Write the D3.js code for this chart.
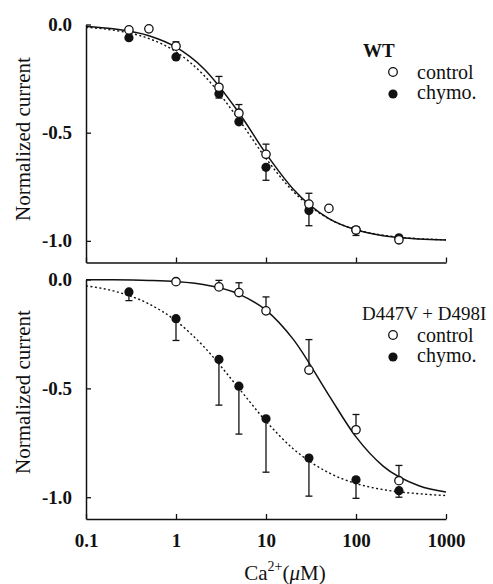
<!DOCTYPE html>
<html>
<head>
<meta charset="utf-8">
<script src="https://cdn.jsdelivr.net/npm/d3@7"></script>
<style>
  html, body { margin: 0; padding: 0; background: #fff; }
  svg { display: block; font-family: "Liberation Serif" !important; }
  svg text, svg tspan, svg g { font-family: "Liberation Serif" !important; }
</style>
</head>
<body>
<svg id="chart" width="493" height="584"></svg>
<script>
// Ca2+ concentrations (µM) and normalized current, mean ± SEM
const xTicks = [0.1, 1, 10, 100, 1000];
const xTickLabels = ["0.1", "1", "10", "100", "1000"];
const yTicks = [0, -0.5, -1];
const yTickLabels = ["0.0", "-0.5", "-1.0"];

// Wild type
const wtControlConc = [0.3, 0.5, 1, 3, 5, 10, 30, 50, 100, 300];
const wtControl     = [-0.025, -0.02, -0.10, -0.29, -0.41, -0.60, -0.83, -0.85, -0.95, -0.995];
const wtControlErr  = [0, 0, 0.02, 0.05, 0.04, 0.047, 0.05, 0, 0.015, 0];
const wtChymoConc   = [0.3, 1, 3, 5, 10, 30, 100, 300];
const wtChymo       = [-0.061, -0.15, -0.32, -0.45, -0.66, -0.86, -0.95, -0.986];
const wtChymoErr    = [0, 0, 0.02, 0, 0.06, 0.07, 0.025, 0];

// D447V + D498I
const mutControlConc = [1, 3, 5, 10, 30, 100, 300];
const mutControl     = [-0.01, -0.034, -0.06, -0.144, -0.416, -0.69, -0.924];
const mutControlErr  = [0, 0.03, 0.045, 0.064, 0.14, 0.07, 0.07];
const mutChymoConc   = [0.3, 1, 3, 5, 10, 30, 100, 300];
const mutChymo       = [-0.057, -0.18, -0.367, -0.49, -0.64, -0.82, -0.92, -0.97];
const mutChymoErr    = [0.04, 0.1, 0.21, 0.22, 0.245, 0.175, 0.085, 0.03];

// Hill-fit curves, sampled along the concentration axis
const fitConc       = [0.1, 0.2, 0.5, 1, 2, 5, 10, 20, 50, 100, 200, 500, 1000];
const wtControlFit  = [-0.009, -0.020, -0.052, -0.105, -0.201, -0.408, -0.597, -0.760, -0.897, -0.949, -0.976, -0.991, -0.996];
const wtChymoFit    = [-0.013, -0.026, -0.065, -0.126, -0.231, -0.440, -0.619, -0.771, -0.898, -0.948, -0.974, -0.990, -0.995];
const mutControlFit = [-0.001, -0.0015, -0.0045, -0.010, -0.023, -0.067, -0.141, -0.274, -0.532, -0.723, -0.857, -0.947, -0.976];
const mutChymoFit   = [-0.029, -0.052, -0.112, -0.190, -0.305, -0.500, -0.651, -0.777, -0.888, -0.937, -0.965, -0.984, -0.992];

const svg = d3.select("#chart");
const ink = "#111";

const x = d3.scaleLog().domain([0.1, 1000]).range([86, 446]);

const panels = [
  {
    yRange: [262.5, 24.5], title: "WT", titleBold: true,
    titleX: 363, titleY: 57, legendY: [72, 94],
    control: { conc: wtControlConc, val: wtControl, err: wtControlErr, fit: wtControlFit },
    chymo:   { conc: wtChymoConc,   val: wtChymo,   err: wtChymoErr,   fit: wtChymoFit },
    xLabels: false, yLabelY: 139
  },
  {
    yRange: [519, 279.5], title: "D447V + D498I", titleBold: false,
    titleX: 362, titleY: 320, legendY: [335, 357],
    control: { conc: mutControlConc, val: mutControl, err: mutControlErr, fit: mutControlFit },
    chymo:   { conc: mutChymoConc,   val: mutChymo,   err: mutChymoErr,   fit: mutChymoFit },
    xLabels: true, yLabelY: 392
  }
];

const label = (sel, size, weight) => sel
  .style("font-size", size + "px").style("font-weight", weight || "normal")
  .attr("fill", ink);

panels.forEach(p => {
  const y = d3.scaleLinear().domain([-1.1, 0]).range(p.yRange);
  const g = svg.append("g");

  // axes: ticks point inward
  const yAxis = d3.axisLeft(y).tickValues(yTicks)
    .tickFormat((d, i) => yTickLabels[i])
    .tickSizeInner(-5).tickSizeOuter(0).tickPadding(14);
  const yg = g.append("g").attr("transform", `translate(${x.range()[0]},0)`).call(yAxis);

  const xAxis = d3.axisBottom(x).tickValues(xTicks)
    .tickFormat((d, i) => p.xLabels ? xTickLabels[i] : "")
    .tickSizeInner(-5).tickSizeOuter(0).tickPadding(15);
  const xg = g.append("g").attr("transform", `translate(0,${p.yRange[0]})`).call(xAxis);

  [yg, xg].forEach(a => {
    a.attr("font-family", null).attr("font-size", null);
    a.selectAll("path.domain").attr("stroke", ink).attr("stroke-width", 1.5);
    a.selectAll(".tick line").attr("stroke", ink).attr("stroke-width", 1.3);
    label(a.selectAll(".tick text"), 19, "bold");
  });

  // y-axis title
  label(g.append("text"), 21)
    .attr("transform", `translate(23,${p.yLabelY}) rotate(-90)`)
    .attr("text-anchor", "middle").attr("dominant-baseline", "central")
    .text("Normalized current");

  // fitted curves
  const line = d3.line().x((d, i) => x(fitConc[i])).y(d => y(d)).curve(d3.curveMonotoneX);
  g.append("path").datum(p.chymo.fit).attr("d", line)
    .attr("fill", "none").attr("stroke", ink).attr("stroke-width", 1.4)
    .attr("stroke-dasharray", "2,2.5");
  g.append("path").datum(p.control.fit).attr("d", line)
    .attr("fill", "none").attr("stroke", ink).attr("stroke-width", 1.5);

  // error bars: control upward, chymotrypsin downward
  const drawErr = (s, dir) => {
    const rows = s.conc.map((c, i) => ({ c, v: s.val[i], e: s.err[i] })).filter(d => d.e > 0);
    const eg = g.append("g").attr("stroke", ink).attr("stroke-width", 1.3);
    rows.forEach(d => {
      const y0 = y(d.v), y1 = y(d.v + dir * d.e), cx = x(d.c);
      eg.append("line").attr("x1", cx).attr("x2", cx).attr("y1", y0).attr("y2", y1);
      eg.append("line").attr("x1", cx - 3.5).attr("x2", cx + 3.5).attr("y1", y1).attr("y2", y1);
    });
  };
  drawErr(p.control, 1);
  drawErr(p.chymo, -1);

  // markers
  g.append("g").selectAll("circle").data(p.chymo.conc).join("circle")
    .attr("cx", d => x(d)).attr("cy", (d, i) => y(p.chymo.val[i])).attr("r", 4.6)
    .attr("fill", ink);
  g.append("g").selectAll("circle").data(p.control.conc).join("circle")
    .attr("cx", d => x(d)).attr("cy", (d, i) => y(p.control.val[i])).attr("r", 4.2)
    .attr("fill", "#fff").attr("stroke", ink).attr("stroke-width", 1.3);

  // legend
  label(g.append("text"), 19, p.titleBold ? "bold" : "normal")
    .attr("x", p.titleX).attr("y", p.titleY).text(p.title);
  g.append("circle").attr("cx", 393).attr("cy", p.legendY[0]).attr("r", 4.3)
    .attr("fill", "#fff").attr("stroke", ink).attr("stroke-width", 1.3);
  g.append("circle").attr("cx", 393).attr("cy", p.legendY[1]).attr("r", 4.6).attr("fill", ink);
  label(g.append("text"), 20).attr("x", 417).attr("y", p.legendY[0] + 7).text("control");
  label(g.append("text"), 20).attr("x", 417).attr("y", p.legendY[1] + 5).text("chymo.");
});

// x-axis title
const xt = label(svg.append("text"), 21).attr("x", 285).attr("y", 580)
  .attr("text-anchor", "middle");
xt.append("tspan").text("Ca");
xt.append("tspan").attr("dy", -9).style("font-size", "14px").text("2+");
xt.append("tspan").attr("dy", 9).text("(");
xt.append("tspan").style("font-style", "italic").text("μ");
xt.append("tspan").text("M)");
</script>
</body>
</html>
